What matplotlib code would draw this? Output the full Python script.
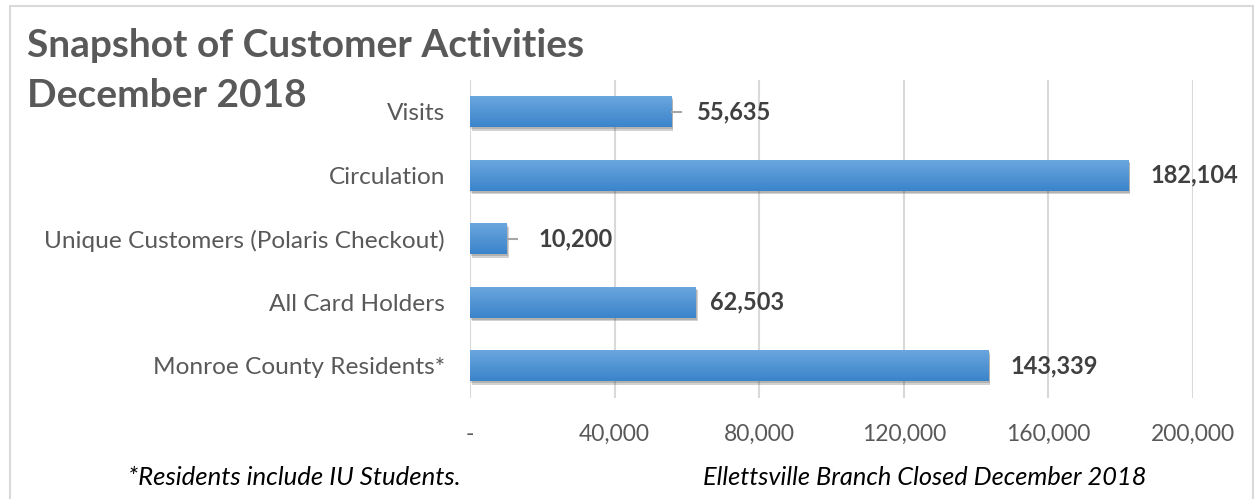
import numpy as np
import matplotlib
matplotlib.use("Agg")
import matplotlib.pyplot as plt
from matplotlib.patches import Rectangle
from matplotlib.ticker import FuncFormatter
import matplotlib.patheffects as pe

plt.rcParams['font.family'] = ['Lato', 'DejaVu Sans']

# bottom-to-top order, as drawn
categories = ["Monroe County Residents*", "All Card Holders",
              "Unique Customers (Polaris Checkout)", "Circulation", "Visits"]
values = [143339, 62503, 10200, 182104, 55635]
xticks = [0, 40000, 80000, 120000, 160000, 200000]

# label gap after bar end (px) and which labels get a leader line
label_gap = [22, 14, 32, 22, 26]
leader = [False, False, True, False, True]

W, H = 1257, 499
fig = plt.figure(figsize=(W / 100, H / 100), dpi=100)


def fx(px):
    return px / W


def fy(py):
    return 1 - py / H


# outer chart frame
fig.patches.append(Rectangle((fx(10), fy(520)), fx(1253) - fx(10), fy(6) - fy(520),
                             transform=fig.transFigure, fill=False,
                             edgecolor="#d9d9d9", linewidth=1.5))

ax = fig.add_axes([fx(470), fy(397.5), fx(1193) - fx(470), fy(80) - fy(397.5)])

y = np.arange(len(categories))
bar_h = 0.49

# vertical gradient fill for the bars
grad = np.linspace(0, 1, 64).reshape(-1, 1)
cmap = matplotlib.colors.LinearSegmentedColormap.from_list("bar", ["#3b84ca", "#6ba7df"])

for yi, v in zip(y, values):
    r = Rectangle((0, yi - bar_h / 2), v, bar_h, facecolor="#4d93d8", edgecolor="none", zorder=2,
                  path_effects=[pe.SimplePatchShadow(offset=(1.5, -2.5), alpha=0.22, shadow_rgbFace="#333333"),
                                pe.SimplePatchShadow(offset=(1, -1.5), alpha=0.2, shadow_rgbFace="#333333"),
                                pe.Normal()])
    ax.add_patch(r)
    im = ax.imshow(grad, extent=[0, v, yi - bar_h / 2, yi + bar_h / 2], cmap=cmap,
                   aspect="auto", origin="lower", zorder=3, interpolation="bilinear")
    im.set_clip_path(r)

ax.set_xlim(0, 200000)
ax.set_ylim(-0.5, 4.5)

px_per_unit = (1193 - 470) / 200000
for yi, v, gap, lead in zip(y, values, label_gap, leader):
    if lead:
        ax.plot([v, v + 11 / px_per_unit], [yi, yi], color="#a6a6a6", lw=1.5, zorder=3,
                solid_capstyle="butt")
    ax.text(v + gap / px_per_unit, yi, f"{v:,}", va="center", ha="left", fontsize=17,
            fontweight="bold", color="#404040")

ax.set_yticks(y)
ax.set_yticklabels(categories)
ax.set_xticks(xticks)
ax.xaxis.set_major_formatter(FuncFormatter(lambda v, p: "-" if v == 0 else f"{int(v):,}"))
ax.tick_params(axis="both", length=0, labelcolor="#595959")
ax.tick_params(axis="y", pad=18, labelsize=17.6)
ax.tick_params(axis="x", pad=19, labelsize=16.5)
ax.grid(axis="x", color="#d9d9d9", linewidth=1.5, zorder=0)
ax.set_axisbelow(True)
for s in ax.spines.values():
    s.set_visible(False)

fig.text(fx(27), fy(57), "Snapshot of Customer Activities", fontsize=28, fontweight="bold",
         color="#595959", va="baseline", ha="left")
fig.text(fx(27), fy(107), "December 2018", fontsize=28, fontweight="bold",
         color="#595959", va="baseline", ha="left")

fig.text(fx(128), fy(485), "*Residents include IU Students.", fontsize=18.5, style="italic",
         color="#000000", va="baseline", ha="left")
fig.text(fx(703), fy(485), "Ellettsville Branch Closed December 2018", fontsize=18.3,
         style="italic", color="#000000", va="baseline", ha="left")

fig.savefig("out.png", dpi=100)
